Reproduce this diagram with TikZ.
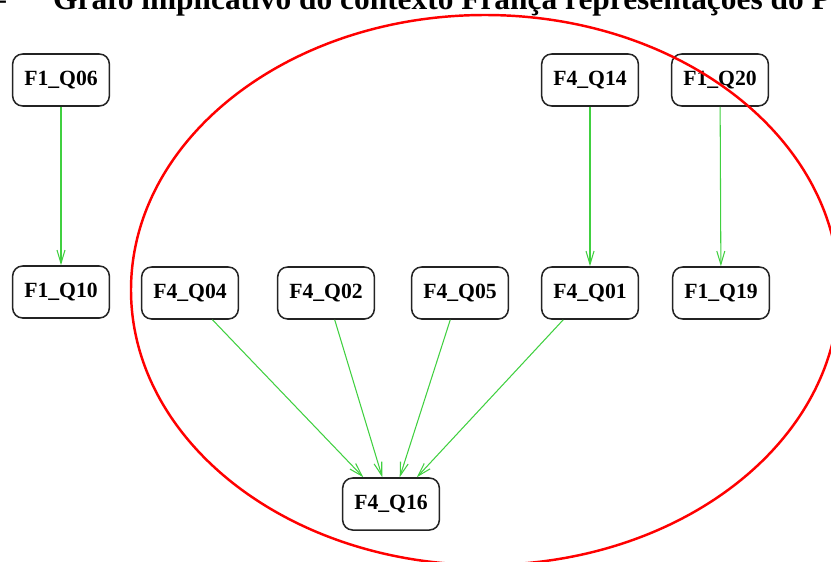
\documentclass[tikz,border=0pt]{standalone}
\usepackage{fontspec}
\setmainfont{Liberation Serif}
\usetikzlibrary{arrows.meta}

\definecolor{implgreen}{RGB}{64,208,64}
\definecolor{boxgray}{RGB}{35,35,35}

\tikzset{
	qbox/.style={draw=boxgray, line width=1.3pt, rounded corners=3mm,
		minimum width=29mm, minimum height=15.6mm, inner sep=0pt,
		font=\bfseries\fontsize{18.5}{21}\selectfont},
	impl/.style={draw=implgreen, line width=0.9pt,
		-{Straight Barb[length=4mm,width=2.4mm]}},
	caption/.style={font=\bfseries\fontsize{26.8}{30}\selectfont, inner sep=0pt}
}

\begin{document}
\begin{tikzpicture}[x=0.3mm,y=-0.3mm]
	\useasboundingbox (0,0) rectangle (831,561);
	\clip (0,0) rectangle (831,561);
	
	% caption line, only its lower part shows
	\node[caption, anchor=base east] (dash) at (6,9) {--};
	\node[caption, anchor=base west] (title) at (53,9)
		{Grafo implicativo do contexto França representações do P};
	
	% top row
	\node[qbox] (q06) at (61,80) {F1\_Q06};
	\node[qbox] (q14) at (590,80) {F4\_Q14};
	\node[qbox] (q20) at (720,80) {F1\_Q20};
	
	% middle row
	\node[qbox] (q10) at (61,292) {F1\_Q10};
	\node[qbox] (q04) at (190,293) {F4\_Q04};
	\node[qbox] (q02) at (326,293) {F4\_Q02};
	\node[qbox] (q05) at (460,293) {F4\_Q05};
	\node[qbox] (q01) at (590,293) {F4\_Q01};
	\node[qbox] (q19) at (721,293) {F1\_Q19};
	
	% bottom
	\node[qbox] (q16) at (391,504) {F4\_Q16};
	
	\draw[impl] (q06) -- (q10);
	\draw[impl] (q14) -- (q01);
	\draw[impl] (q20) -- (q19);
	
	\draw[impl] (q04.-50) -- (q16.136);
	\draw[impl] (q02.-72) -- (q16.108);
	\draw[impl] (q05.-110) -- (q16.72);
	\draw[impl] (q01.-135) -- (q16.46);
	
	% the group around F4_Q16
	\draw[red, line width=2.1pt] (485,290) ellipse (354 and 275);
\end{tikzpicture}
\end{document}
